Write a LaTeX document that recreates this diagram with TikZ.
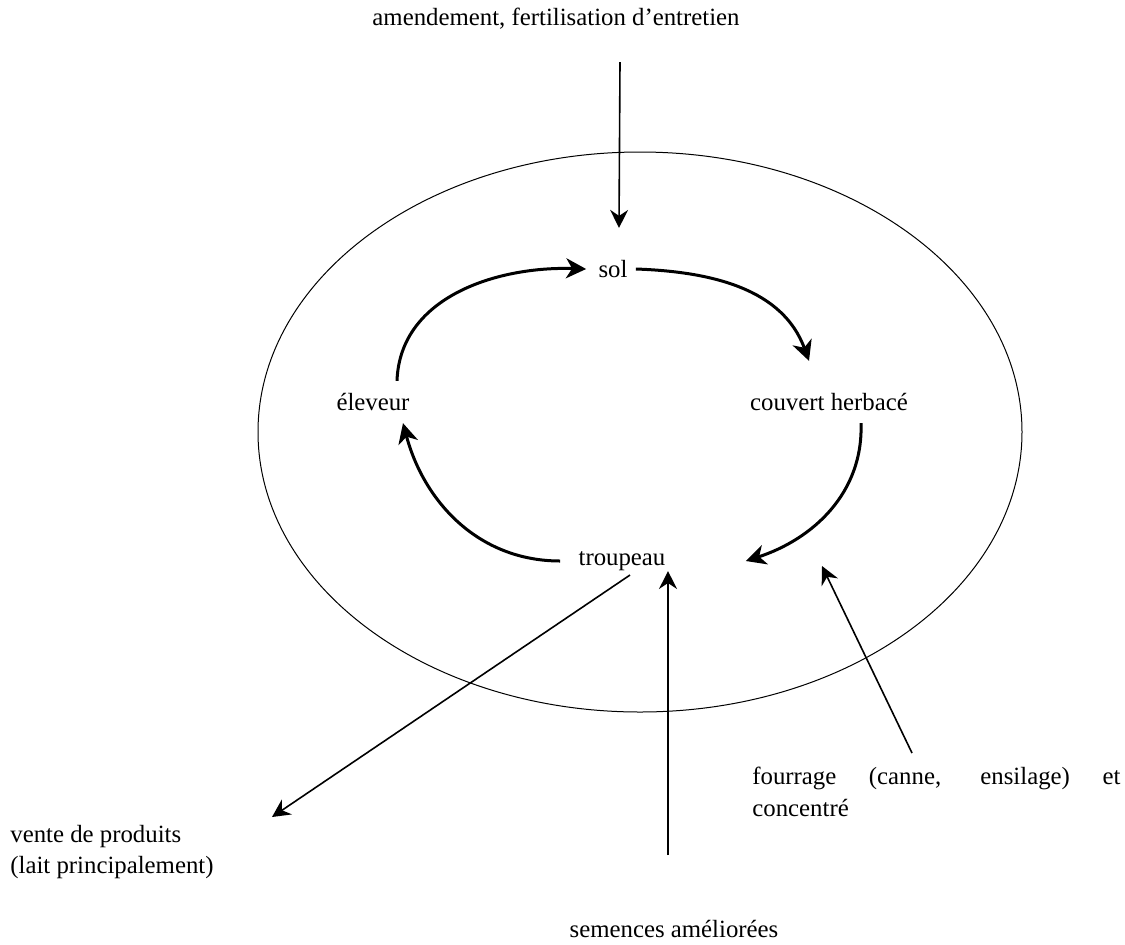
\documentclass[tikz,border=0pt]{standalone}
\usepackage{fontspec}
\setmainfont{Liberation Serif}
\usetikzlibrary{arrows.meta,positioning}

\begin{document}
\begin{tikzpicture}[x=0.5pt,y=-0.5pt,
    lbl/.style={inner sep=0pt,font=\fontsize{12.4}{15.8}\selectfont},
    cycle/.style={line width=1.5pt,-{Stealth[length=10pt,width=10pt,inset=3pt]}},
    feed/.style={line width=0.8pt,-{Stealth[length=9pt,width=9pt,inset=3pt]}}]

    \useasboundingbox (0,0) rectangle (1125,944);

    % outer ring
    \draw[line width=0.5pt] (640,432) ellipse [x radius=382,y radius=280];

    % the four elements of the cycle
    \node[lbl] (sol) at (613,269) {sol};
    \node[lbl] (couvert) at (829,402) {couvert herbacé};
    \node[lbl] (troupeau) at (622,561) {troupeau};
    \node[lbl] (eleveur) at (373,402) {éleveur};

    % outside flows
    \node[lbl] (amend) at (556,19) {amendement, fertilisation d'entretien};
    \node[lbl,align=left,anchor=west] (fourrage) at (752,792)
      {\makebox[184pt][s]{fourrage (canne, ensilage) et}\\concentré};
    \node[lbl,align=left,anchor=west] (vente) at (10,852)
      {vente de produits\\(lait principalement)};
    \node[lbl] (semences) at (674,929) {semences améliorées};

    \coordinate (amendtop) at (620,62);
    \coordinate (fourragetop) at (912,753);
    \coordinate (semencesbot) at (668,855);
    \coordinate (ventetip) at (272,817);

    \draw[cycle] ([xshift=12pt,yshift=6pt]eleveur.north) to[out=88,in=178] ([xshift=-6pt]sol.west);
    \draw[cycle] ([xshift=4pt]sol.east) to[out=-2,in=110] ([xshift=-10pt,yshift=16pt]couvert.north);
    \draw[cycle] ([xshift=16pt,yshift=-6pt]couvert.south) to[out=-88,in=18] ([xshift=40pt]troupeau.east);
    \draw[cycle] ([xshift=-9pt]troupeau.west) to[out=180,in=-75] ([xshift=15pt,yshift=-6pt]eleveur.south);

    \draw[feed] (amendtop) -- ([xshift=3pt,yshift=16pt]sol.north);
    \draw[feed] (fourragetop) -- (822,566);
    \draw[feed] (semencesbot) -- ([xshift=23pt]troupeau.south);
    \draw[feed] ([xshift=4pt,yshift=-2pt]troupeau.south) -- (ventetip);

\end{tikzpicture}
\end{document}
